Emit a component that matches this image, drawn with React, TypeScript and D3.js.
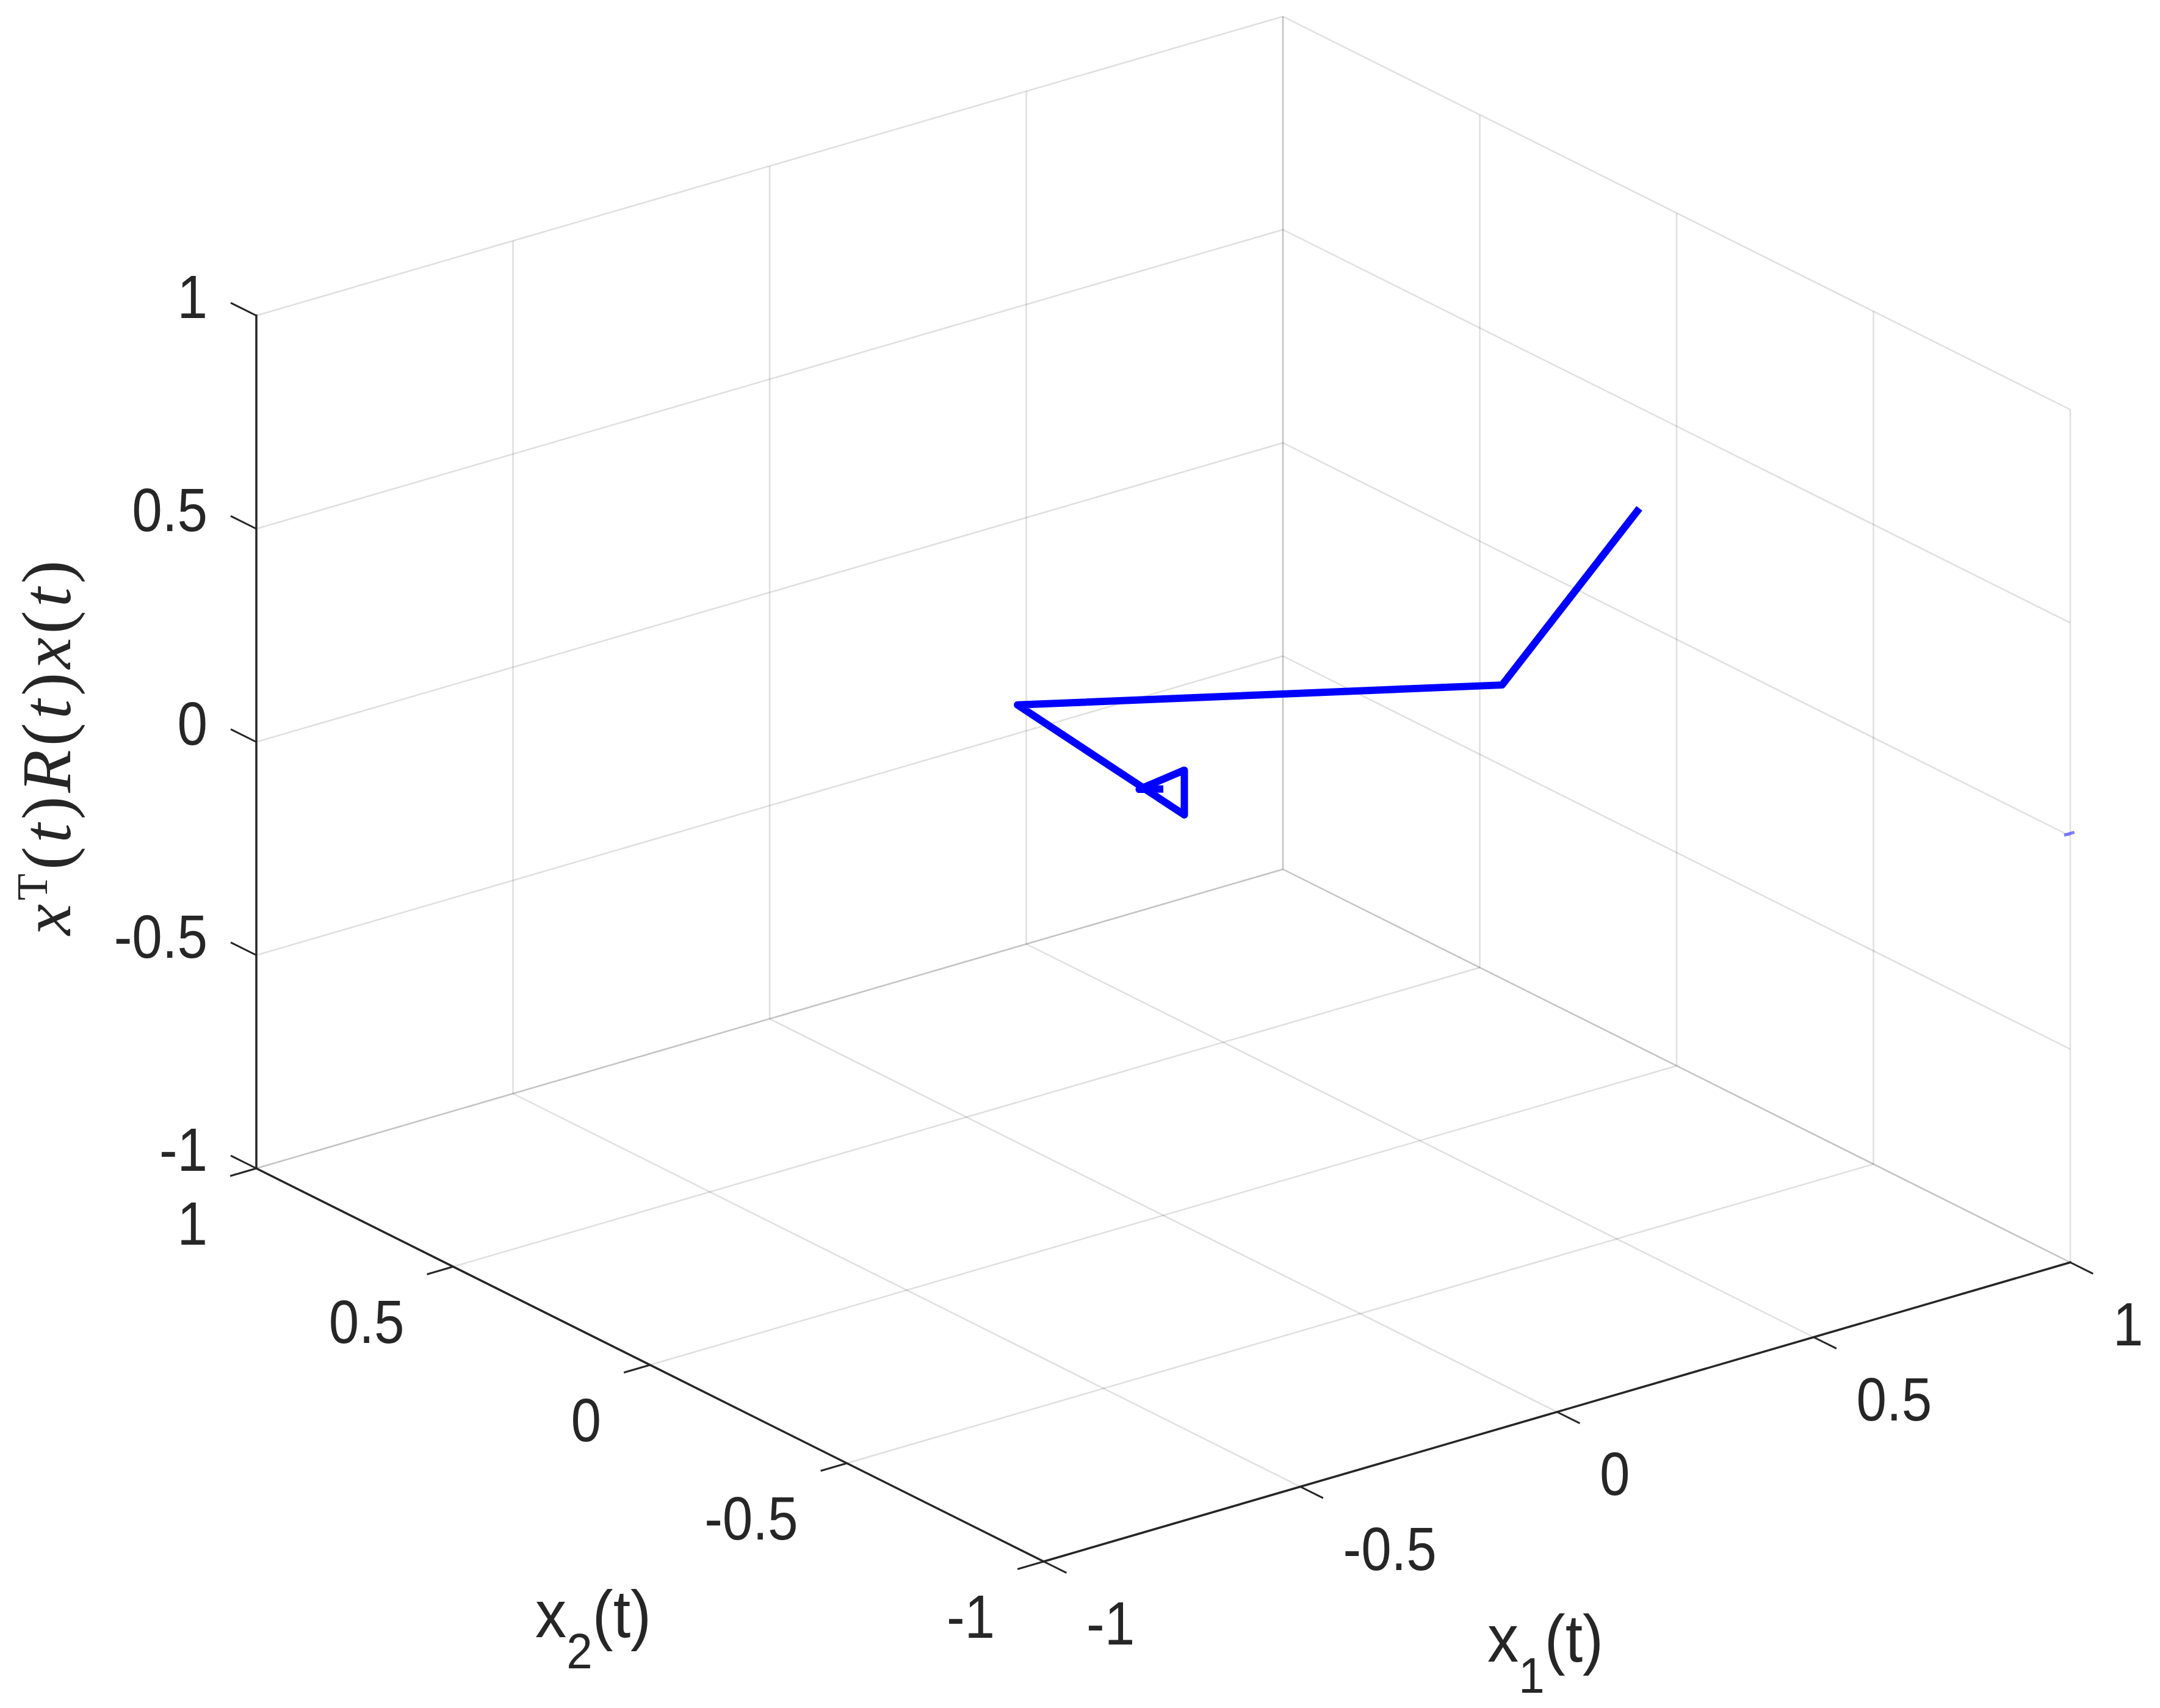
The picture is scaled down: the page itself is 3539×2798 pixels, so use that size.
import React from 'react';
import * as d3 from 'd3';

// ---- data ----
const x1Ticks = [-1, -0.5, 0, 0.5, 1];
const x2Ticks = [-1, -0.5, 0, 0.5, 1];
const zTicks = [-1, -0.5, 0, 0.5, 1];
const x1TickLabels = ['-1', '-0.5', '0', '0.5', '1'];
const x2TickLabels = ['-1', '-0.5', '0', '0.5', '1'];
const zTickLabels = ['-1', '-0.5', '0', '0.5', '1'];

// trajectory (x1, x2, x^T R x)
const trajX1 = [0.962, 0.568, -0.130, -0.038, -0.038, -0.083, 0];
const trajX2 = [0.045, -0.120, 0.201, -0.103, -0.103, -0.047, 0];
const trajZ = [0.30, 0.10, 0.15, 0.0, 0.105, 0.05, 0];

// tiny clipped trace at the right wall
const edgeX1 = [0.988, 1.008];
const edgeX2 = [-1, -1];
const edgeZ = [0.006, 0.006];

// ---- layout / style ----
const W = 3539;
const H = 2798;
const ORIGIN = [1906, 1292.5];
const EX = [841, -245];
const EY = [-645, -322];
const EZ = [0, -698.5];
const AX = '#262626';
const TICK_FS = 100;
const TICK_SX = 0.89;
const TITLE_FS = 110;

const sx = d3.scaleLinear().domain([-1, 1]).range([-1, 1]);
const sy = d3.scaleLinear().domain([-1, 1]).range([-1, 1]);
const sz = d3.scaleLinear().domain([-1, 1]).range([-1, 1]);

function proj(a: number, b: number, c: number): [number, number] {
  const u = sx(a), v = sy(b), w = sz(c);
  return [
    ORIGIN[0] + u * EX[0] + v * EY[0] + w * EZ[0],
    ORIGIN[1] + u * EX[1] + v * EY[1] + w * EZ[1],
  ];
}

function seg(p: [number, number], q: [number, number]) {
  return `M${p[0]},${p[1]}L${q[0]},${q[1]}`;
}

export default function App() {
  const grid: string[] = [];
  // floor z=-1
  x1Ticks.forEach((t) => grid.push(seg(proj(t, -1, -1), proj(t, 1, -1))));
  x2Ticks.forEach((t) => grid.push(seg(proj(-1, t, -1), proj(1, t, -1))));
  // back-left wall x2=1
  x1Ticks.forEach((t) => grid.push(seg(proj(t, 1, -1), proj(t, 1, 1))));
  zTicks.forEach((t) => grid.push(seg(proj(-1, 1, t), proj(1, 1, t))));
  // back-right wall x1=1
  x2Ticks.forEach((t) => grid.push(seg(proj(1, t, -1), proj(1, t, 1))));
  zTicks.forEach((t) => grid.push(seg(proj(1, -1, t), proj(1, 1, t))));

  const line = d3.line<number>()
    .x((i) => proj(trajX1[i], trajX2[i], trajZ[i])[0])
    .y((i) => proj(trajX1[i], trajX2[i], trajZ[i])[1]);
  const trajPath = line(d3.range(trajX1.length)) || '';

  const edgeLine = d3.line<number>()
    .x((i) => proj(edgeX1[i], edgeX2[i], edgeZ[i])[0])
    .y((i) => proj(edgeX1[i], edgeX2[i], edgeZ[i])[1]);
  const edgePath = edgeLine(d3.range(edgeX1.length)) || '';

  const tickFont = {
    fontFamily: '"Liberation Sans", Arial, Helvetica, sans-serif',
    fontSize: TICK_FS,
    fill: AX,
  };

  return (
    <svg
      width={W}
      height={H}
      viewBox={`0 0 ${W} ${H}`}
      style={{ position: 'absolute', left: 0, top: 0, display: 'block' }}
    >
      <rect x={0} y={0} width={W} height={H} fill="#ffffff" />
      {/* grid */}
      <g stroke={AX} strokeOpacity={0.15} strokeWidth={2.5} fill="none">
        {grid.map((d, i) => (
          <path key={i} d={d} />
        ))}
      </g>

      {/* axes */}
      <g stroke={AX} strokeWidth={3.5} fill="none" strokeLinecap="square">
        <path d={seg(proj(-1, 1, -1), proj(-1, 1, 1))} />
        <path d={seg(proj(-1, -1, -1), proj(1, -1, -1))} />
        <path d={seg(proj(-1, -1, -1), proj(-1, 1, -1))} />
      </g>
      {/* ticks */}
      <g stroke={AX} strokeWidth={3} fill="none">
        {x1Ticks.map((t, i) => (
          <path key={'tx1' + i} d={seg(proj(t, -1, -1), proj(t, -1.058, -1))} />
        ))}
        {x2Ticks.map((t, i) => (
          <path key={'tx2' + i} d={seg(proj(-1, t, -1), proj(-1.051, t, -1))} />
        ))}
        {zTicks.map((t, i) => (
          <path key={'tz' + i} d={seg(proj(-1, 1, t), proj(-1, 1.065, t))} />
        ))}
      </g>

      {/* tick labels */}
      <g style={tickFont}>
        {x1Ticks.map((t, i) => {
          const p = proj(t, -1, -1);
          return (
            <text
              key={'lx1' + i}
              transform={`translate(${p[0] + 70},${p[1] + 136}) scale(${TICK_SX},1)`}
              textAnchor="start"
            >
              {x1TickLabels[i]}
            </text>
          );
        })}
        {x2Ticks.map((t, i) => {
          const p = proj(-1, t, -1);
          return (
            <text
              key={'lx2' + i}
              transform={`translate(${p[0] - 80},${p[1] + 125}) scale(${TICK_SX},1)`}
              textAnchor="end"
            >
              {x2TickLabels[i]}
            </text>
          );
        })}
        {zTicks.map((t, i) => {
          const p = proj(-1, 1, t);
          return (
            <text
              key={'lz' + i}
              transform={`translate(${p[0] - 80},${p[1] + 4}) scale(${TICK_SX},1)`}
              textAnchor="end"
            >
              {zTickLabels[i]}
            </text>
          );
        })}
      </g>

      {/* axis titles */}
      <g
        style={{
          fontFamily: '"Liberation Sans", Arial, Helvetica, sans-serif',
          fontSize: TITLE_FS,
          fill: AX,
        }}
      >
        <text transform={`translate(2437,2722) scale(0.93,1)`}>
          x<tspan fontSize={82} dy={51}>1</tspan>
          <tspan dy={-51}>(t)</tspan>
        </text>
        <text transform={`translate(877,2682) scale(0.93,1)`}>
          x<tspan fontSize={82} dy={51}>2</tspan>
          <tspan dy={-51}>(t)</tspan>
        </text>
      </g>
      <text
        transform="translate(115,1222) rotate(-90)"
        textAnchor="middle"
        style={{
          fontFamily: '"Liberation Serif", "Times New Roman", serif',
          fontSize: 115,
          fill: AX,
          letterSpacing: 6,
        }}
      >
        <tspan fontStyle="italic">x</tspan>
        <tspan fontSize={72} dy={-38}>T</tspan>
        <tspan dy={38}>(</tspan>
        <tspan fontStyle="italic">t</tspan>
        <tspan>)</tspan>
        <tspan fontStyle="italic">R</tspan>
        <tspan>(</tspan>
        <tspan fontStyle="italic">t</tspan>
        <tspan>)</tspan>
        <tspan fontStyle="italic">x</tspan>
        <tspan>(</tspan>
        <tspan fontStyle="italic">t</tspan>
        <tspan>)</tspan>
      </text>

      {/* data */}
      <path
        d={edgePath}
        fill="none"
        stroke="#0000ff"
        strokeOpacity={0.5}
        strokeWidth={5}
      />
      <path
        d={trajPath}
        fill="none"
        stroke="#0000ff"
        strokeWidth={12}
        strokeLinejoin="round"
        strokeLinecap="butt"
      />
    </svg>
  );
}
